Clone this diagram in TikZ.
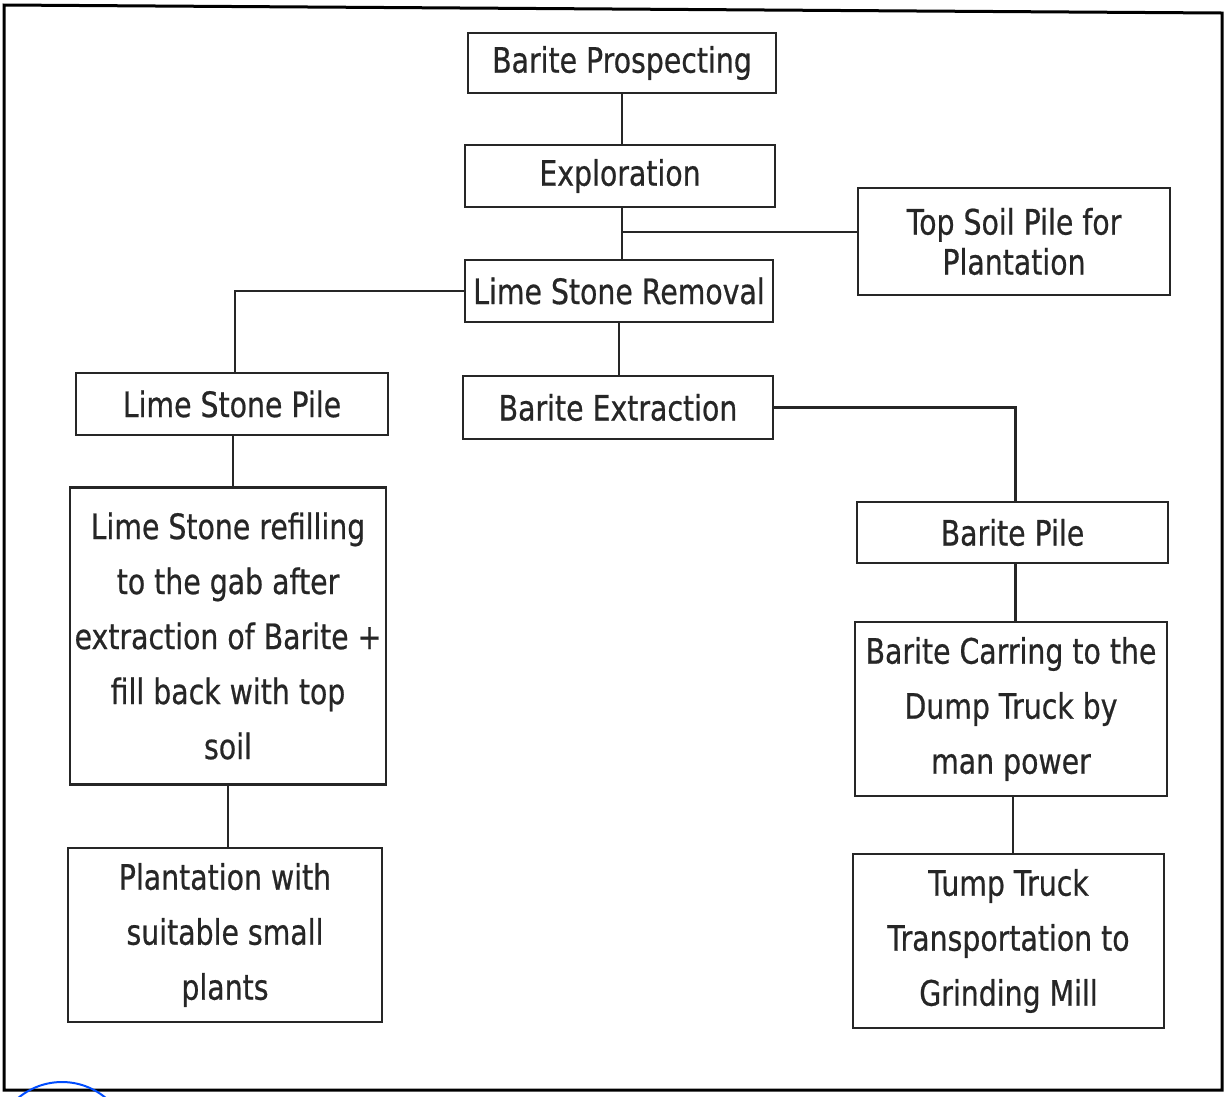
\documentclass[tikz,border=0pt]{standalone}
\usepackage{fontspec}
\setmainfont[FakeStretch=0.81,FakeBold=0.6]{DejaVu Sans}
\begin{document}
\begin{tikzpicture}[x=1pt,y=-1pt,
  box/.style={draw=black!85,line width=2.8pt,inner sep=0pt,align=center,
    font=\fontsize{35}{55}\selectfont,text=black!85},
  link/.style={draw=black!85,line width=2.8pt}]
\useasboundingbox (0,0) rectangle (1230,1096);
\fill[white] (0,0) rectangle (1230,1096);
% outer frame
\draw[line width=3pt] (4,5) -- (1222,13) -- (1222,1090) -- (4,1090) -- cycle;
% stamp fragment
\begin{scope}
\clip (0,0) rectangle (1230,1096);
\draw[blue!70!cyan,line width=2pt] (62,1150) circle (68);
\end{scope}
% boxes
\node[box,minimum width=308,minimum height=60] (b1) at (622,63) {Barite Prospecting};
\node[box,minimum width=310,minimum height=62] (b2) at (620,176) {Exploration};
\node[box,minimum width=312,minimum height=107,font=\fontsize{35}{40}\selectfont] (b3) at (1014,241.5) {Top Soil Pile for\\Plantation};
\node[box,minimum width=308,minimum height=62] (b4) at (619,291) {Lime Stone Removal};
\node[box,minimum width=312,minimum height=62] (b5) at (232,404) {Lime Stone Pile};
\node[box,minimum width=310,minimum height=63] (b6) at (618,407.5) {Barite Extraction};
\node[box,minimum width=316,minimum height=297] (b7) at (228,636) {Lime Stone refilling\\to the gab after\\extraction of Barite +\\fill back with top\\soil};
\node[box,minimum width=311,minimum height=61] (b8) at (1012.5,532.5) {Barite Pile};
\node[box,minimum width=312,minimum height=174] (b9) at (1011,709) {Barite Carring to the\\Dump Truck by\\man power};
\node[box,minimum width=314,minimum height=174] (b10) at (225,935) {Plantation with\\suitable small\\plants};
\node[box,minimum width=311,minimum height=174] (b11) at (1008.5,941) {Tump Truck\\Transportation to\\Grinding Mill};
% connectors
\coordinate (j1) at (622,232);
\draw[link] (b1.south) -- (b1.south |- b2.north);
\draw[link] (b2.south -| b1.south) -- (b1.south |- b4.north);
\draw[link] (j1) -- (j1 -| b3.west);
\draw[link] (b4.west) -| ([xshift=3pt]b5.north);
\draw[link] (b4.south) -- (b4.south |- b6.north);
\draw[link] (b6.east) -| ([xshift=3pt]b8.north);
\draw[link] ([xshift=3pt]b8.south) -- ([xshift=3pt]b8.south |- b9.north);
\draw[link] ([xshift=2pt]b9.south) -- ([xshift=2pt]b9.south |- b11.north);
\draw[link] ([xshift=1pt]b5.south) -- ([xshift=1pt]b5.south |- b7.north);
\draw[link] (b7.south) -- (b7.south |- b10.north);
\end{tikzpicture}
\end{document}
